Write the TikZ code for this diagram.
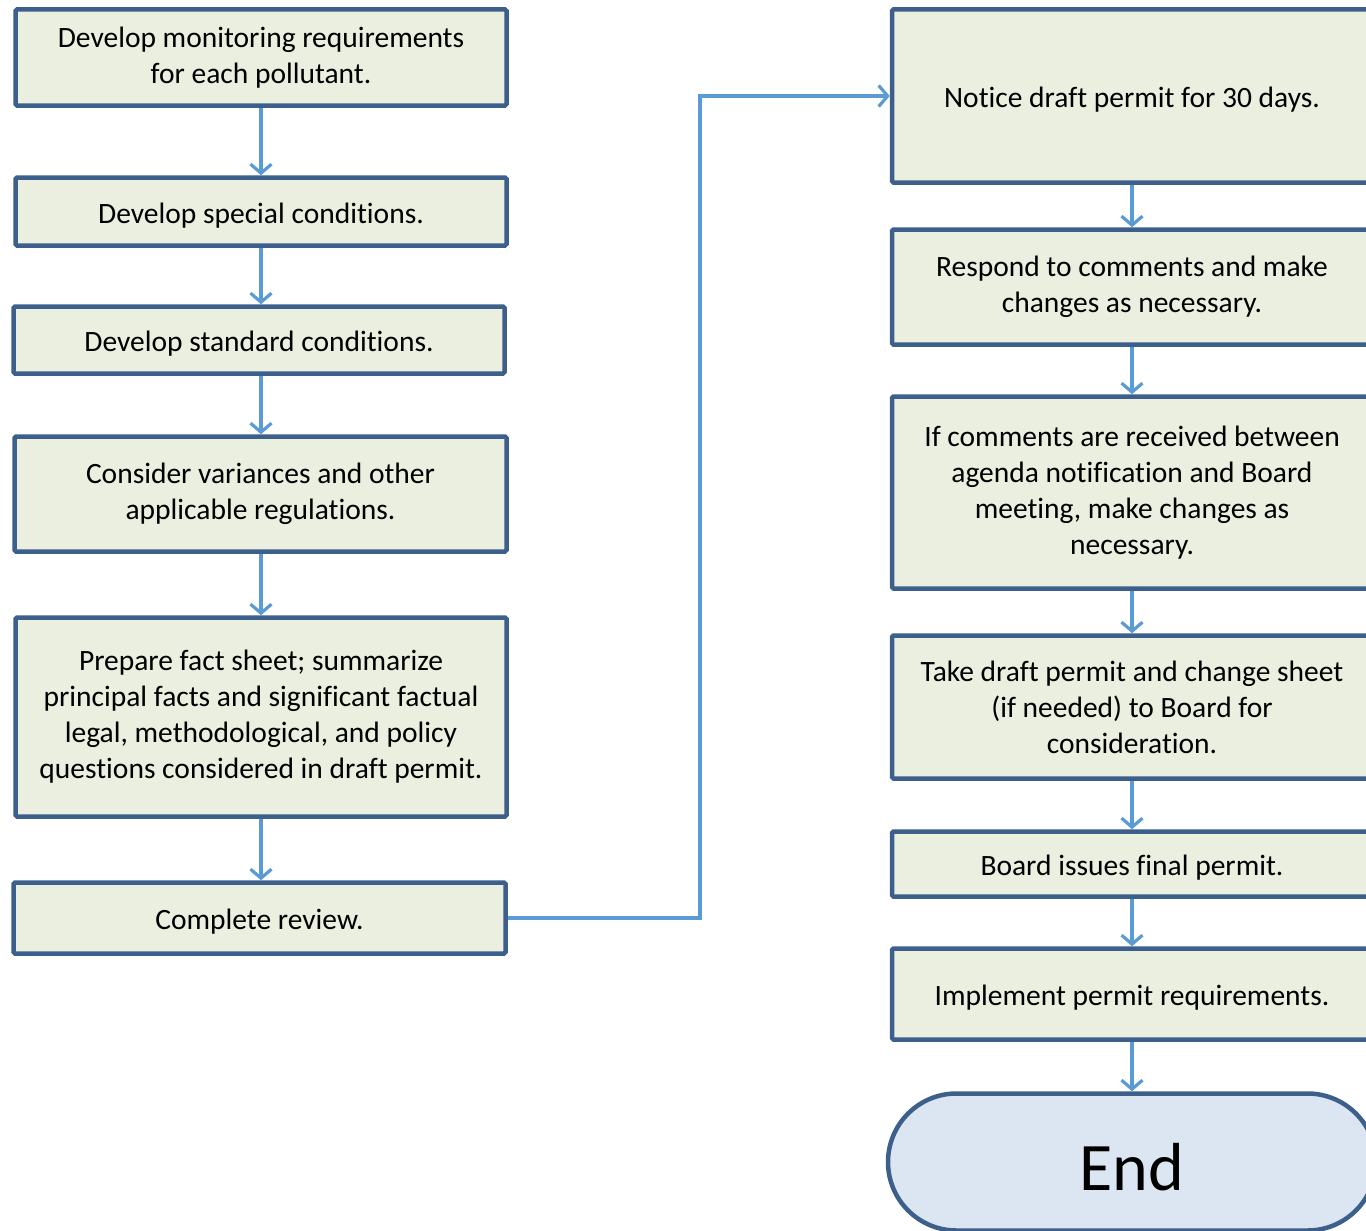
\documentclass[tikz,border=0pt]{standalone}
\usepackage{fontspec}
\setmainfont{Carlito}[Ligatures=NoCommon]
\usetikzlibrary{arrows.meta,shapes.misc}
\definecolor{boxline}{HTML}{3C5F8C}
\definecolor{boxfill}{HTML}{EBEFDF}
\definecolor{flow}{HTML}{5B9BD5}
\definecolor{endfill}{HTML}{DCE6F2}
\tikzset{
  stepbox/.style={draw=boxline, line width=4.5pt, fill=boxfill, rounded corners=1.5pt,
    align=center, inner sep=0pt, font=\fontsize{29.5}{36}\selectfont,
    % taller first line sets the text a little below the box centre
    execute at begin node={\rule{0pt}{28pt}}},
  flowarrow/.style={draw=flow, line width=3.2pt,
    -{Straight Barb[length=9pt, width=21pt, line width=3.2pt]}},
  terminal/.style={draw=boxline, line width=4.5pt, fill=endfill, rounded rectangle,
    inner sep=0pt, font=\fontsize{68}{72}\selectfont,
    text height=56pt, text depth=0pt},
}
\begin{document}
\begin{tikzpicture}[x=1pt, y=-1pt]
  \useasboundingbox (0,0) rectangle (1366,1231);
  \clip (0,0) rectangle (1366,1231);

  % left column
  \node[stepbox, minimum width=491pt, minimum height=96pt] (a) at (261,57.5)
    {Develop monitoring requirements\\for each pollutant.};
  \node[stepbox, minimum width=491pt, minimum height=68pt] (b) at (261,211.5)
    {Develop special conditions.};
  \node[stepbox, minimum width=491pt, minimum height=67pt] (c) at (259,340)
    {Develop standard conditions.};
  \node[stepbox, minimum width=492pt, minimum height=115pt] (d) at (260.5,494)
    {Consider variances and other\\applicable regulations.};
  \node[stepbox, minimum width=491pt, minimum height=199pt] (e) at (261,717)
    {Prepare fact sheet; summarize\\principal facts and significant factual\\legal, methodological, and policy\\questions considered in draft permit.};
  \node[stepbox, minimum width=492pt, minimum height=71pt] (f) at (259.5,918)
    {Complete review.};

  % right column
  \node[stepbox, minimum width=480pt, minimum height=173pt] (r1) at (1132,96)
    {Notice draft permit for 30 days.};
  \node[stepbox, minimum width=480pt, minimum height=115pt] (r2) at (1132,287)
    {Respond to comments and make\\changes as necessary.};
  \node[stepbox, minimum width=480pt, minimum height=192pt] (r3) at (1132,492.5)
    {If comments are received between\\agenda notification and Board\\meeting, make changes as\\necessary.};
  \node[stepbox, minimum width=480pt, minimum height=143pt] (r4) at (1132,707)
    {Take draft permit and change sheet\\(if needed) to Board for\\consideration.};
  \node[stepbox, minimum width=480pt, minimum height=65pt] (r5) at (1132,864)
    {Board issues final permit.};
  \node[stepbox, minimum width=480pt, minimum height=91pt] (r6) at (1132,994)
    {Implement permit requirements.};
  \node[terminal, minimum width=488pt, minimum height=137pt] (end) at (1132,1162)
    {End};

  % connectors
  \draw[flowarrow] (a.south) -- (a.south |- b.north);
  \draw[flowarrow] (b.south -| a.south) -- (a.south |- c.north);
  \draw[flowarrow] (c.south -| a.south) -- (a.south |- d.north);
  \draw[flowarrow] (d.south -| a.south) -- (a.south |- e.north);
  \draw[flowarrow] (e.south -| a.south) -- (a.south |- f.north);

  \coordinate (turn) at (700,500);
  \draw[flowarrow] (f.east) -| (turn) |- (r1.west);

  \draw[flowarrow] (r1.south) -- (r2.north);
  \draw[flowarrow] (r2.south) -- (r3.north);
  \draw[flowarrow] (r3.south) -- (r4.north);
  \draw[flowarrow] (r4.south) -- (r5.north);
  \draw[flowarrow] (r5.south) -- (r6.north);
  \draw[flowarrow] (r6.south) -- (end.north);
\end{tikzpicture}
\end{document}
